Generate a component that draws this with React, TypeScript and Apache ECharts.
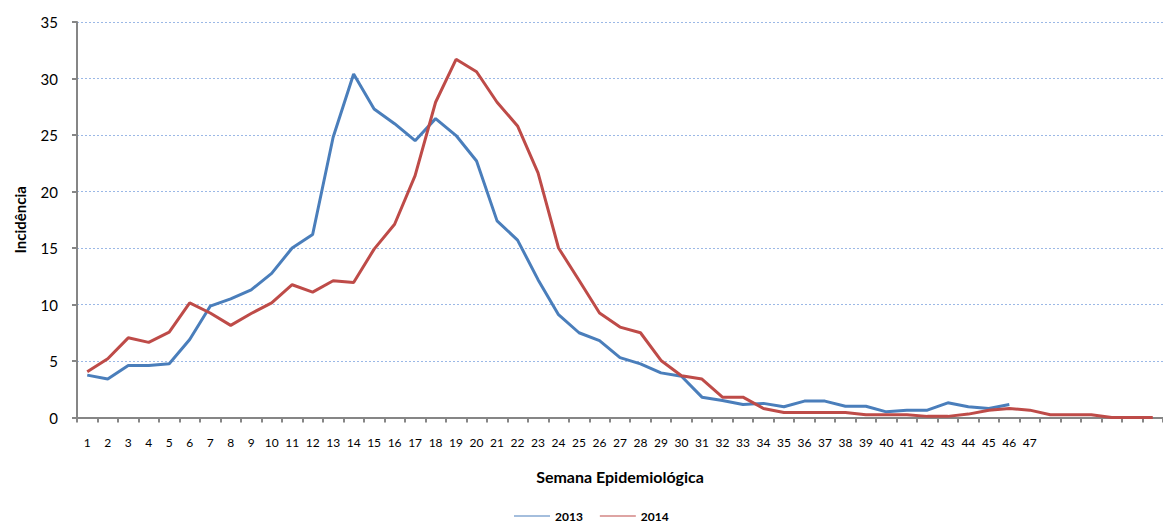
import React, { useEffect, useRef } from "react";
import * as echarts from "echarts";

const weeks: string[] = [];
for (let i = 1; i <= 53; i++) weeks.push(i <= 47 ? String(i) : "");

const series2013 = [
  3.75, 3.4, 4.6, 4.6, 4.75, 6.9, 9.85, 10.5, 11.3, 12.75,
  15.0, 16.2, 24.8, 30.4, 27.3, 26.0, 24.5, 26.45, 24.95, 22.7,
  17.4, 15.7, 12.2, 9.1, 7.5, 6.8, 5.3, 4.75, 3.95, 3.65,
  1.8, 1.5, 1.15, 1.25, 0.95, 1.45, 1.45, 1.0, 1.0, 0.5,
  0.65, 0.65, 1.3, 0.95, 0.8, 1.15,
];

const series2014 = [
  4.05, 5.2, 7.05, 6.65, 7.55, 10.15, 9.25, 8.15, 9.2, 10.15,
  11.75, 11.1, 12.1, 11.95, 14.9, 17.1, 21.4, 27.9, 31.7, 30.6,
  27.9, 25.8, 21.65, 15.0, 12.15, 9.25, 8.0, 7.5, 5.05, 3.7,
  3.4, 1.8, 1.8, 0.8, 0.45, 0.45, 0.45, 0.45, 0.25, 0.25,
  0.25, 0.1, 0.1, 0.3, 0.65, 0.8, 0.65, 0.25, 0.25, 0.25,
  0, 0, 0,
];

const yTicks = [0, 5, 10, 15, 20, 25, 30, 35];

export default function App() {
  const ref = useRef<HTMLDivElement>(null);
  useEffect(() => {
    document.body.style.margin = "0";
    if (!ref.current) return;
    const chart = echarts.init(ref.current, undefined, { renderer: "svg" });
    const font = "Lato, 'Open Sans', sans-serif";
    chart.setOption({
      animation: false,
      backgroundColor: "#ffffff",
      textStyle: { fontFamily: font },
      grid: { left: 77, top: 22, width: 1095, height: 395.5, containLabel: false },
      legend: {
        left: 514,
        top: 510,
        padding: 0,
        itemWidth: 36,
        itemHeight: 10,
        itemGap: 17,
        icon: "path://M0,4.5 L36,4.5 L36,5.5 L0,5.5 Z",
        textStyle: { fontFamily: font, fontSize: 12, lineHeight: 12, fontWeight: "bold", color: "#000" },
        data: ["2013", "2014"],
      },
      xAxis: {
        type: "category",
        data: weeks,
        boundaryGap: true,
        name: "Semana Epidemiológica",
        nameLocation: "middle",
        nameGap: 51,
        nameTextStyle: { fontFamily: font, fontSize: 16, fontWeight: "bold", color: "#000" },
        axisLine: { lineStyle: { color: "#868686", width: 2 } },
        axisTick: { show: true, interval: 0, length: 5, lineStyle: { color: "#868686", width: 2 } },
        axisLabel: { interval: 0, margin: 19, fontSize: 12, color: "#000", fontFamily: font },
        splitLine: { show: false },
      },
      yAxis: {
        type: "value",
        min: yTicks[0],
        max: yTicks[yTicks.length - 1],
        interval: 5,
        name: "Incidência",
        nameLocation: "middle",
        nameGap: 50,
        nameTextStyle: { fontFamily: font, fontSize: 15, fontWeight: "bold", color: "#000" },
        axisLine: { show: true, lineStyle: { color: "#868686", width: 2 } },
        axisTick: { show: true, length: 5, lineStyle: { color: "#868686", width: 2 } },
        axisLabel: { margin: 19, fontSize: 15, color: "#000", fontFamily: font },
        splitLine: { show: true, lineStyle: { color: "#9bb8e6", type: [2, 2], width: 1.2 } },
      },
      series: [
        {
          name: "2013",
          type: "line",
          data: series2013,
          symbol: "none",
          lineStyle: { color: "#4a7ebb", width: 3 },
          itemStyle: { color: "#4a7ebb" },
        },
        {
          name: "2014",
          type: "line",
          data: series2014,
          symbol: "none",
          lineStyle: { color: "#be4b48", width: 3 },
          itemStyle: { color: "#be4b48" },
        },
      ],
    });
    return () => chart.dispose();
  }, []);
  return <div ref={ref} style={{ width: 1163, height: 522 }} />;
}
